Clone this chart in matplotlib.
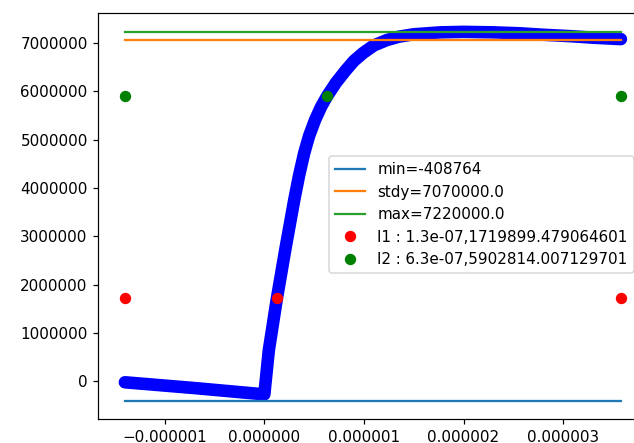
import numpy as np
import matplotlib
matplotlib.use("Agg")
import matplotlib.pyplot as plt
from matplotlib.ticker import ScalarFormatter

# values (time in s, signal)
t = np.array([-1.4, -0.7, 0.0, 0.045, 0.125, 0.21, 0.30, 0.35, 0.40, 0.45,
              0.51, 0.57, 0.63, 0.72, 0.82, 0.90, 0.99, 1.1, 1.23, 1.35, 1.5,
              1.77, 2.0, 2.3, 2.57, 2.8, 3.08, 3.3, 3.58]) * 1e-6
y = np.array([-0.02, -0.14, -0.27, 0.64, 1.70, 2.72, 3.75, 4.27, 4.72, 5.08,
              5.41, 5.68, 5.90, 6.18, 6.44, 6.63, 6.79, 6.95, 7.06, 7.13, 7.18,
              7.22, 7.23, 7.22, 7.2, 7.17, 7.14, 7.11, 7.08]) * 1e6

y_min = -408764
y_stdy = 7070000.0
y_max = 7220000.0
i1 = (1.3e-07, 1719899.479064601)
i2 = (6.3e-07, 5902814.007129701)

dpi = 109
fig = plt.figure(figsize=(634 / dpi, 443 / dpi), dpi=dpi)
ax = fig.add_axes([98.3 / 634, 23.7 / 443, 547.5 / 634, 406 / 443])

# thick blue trace (dense markers in the original)
ax.plot(t, y, 'b-', linewidth=8.3, solid_capstyle='round', solid_joinstyle='round')

t0, t1 = t[0], t[-1]
ax.plot([t0, t1], [y_min, y_min], label='min=' + str(y_min))
ax.plot([t0, t1], [y_stdy, y_stdy], label='stdy=' + str(y_stdy))
ax.plot([t0, t1], [y_max, y_max], label='max=' + str(y_max))
ax.plot([t0, i1[0], t1], [i1[1]] * 3, 'ro', markersize=6.5,
        label='I1 : ' + str(i1[0]) + ',' + str(i1[1]))
ax.plot([t0, i2[0], t1], [i2[1]] * 3, 'go', markersize=6.5,
        label='I2 : ' + str(i2[0]) + ',' + str(i2[1]))

ax.set_xlim(-1.667e-6, 3.83e-6)
ax.set_ylim(-0.786e6, 7.614e6)

for axis in (ax.xaxis, ax.yaxis):
    fmt = ScalarFormatter(useOffset=False)
    fmt.set_scientific(False)
    axis.set_major_formatter(fmt)

ax.legend(loc='upper left', bbox_to_anchor=(329 / 634, 1 - 156 / 443),
          bbox_transform=fig.transFigure, borderaxespad=0)

fig.savefig('out.png', dpi=dpi)
